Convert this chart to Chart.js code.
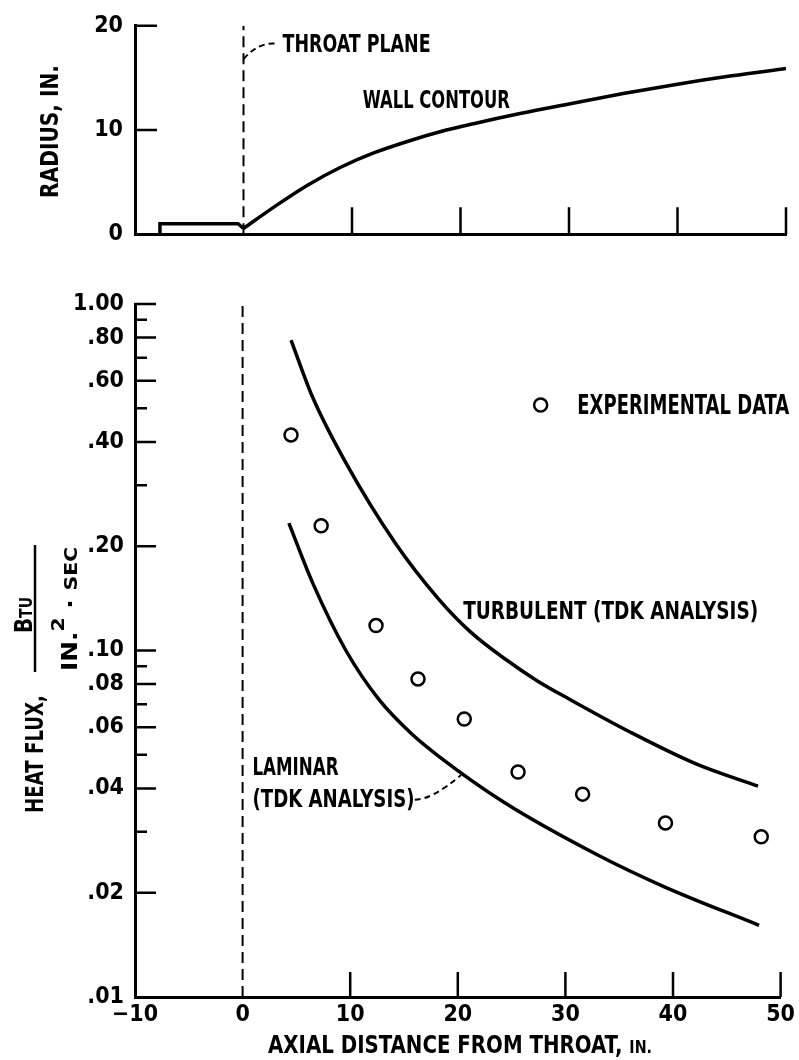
<!DOCTYPE html>
<html>
<head>
<meta charset="utf-8">
<title>Heat flux vs axial distance</title>
<script src="https://cdn.jsdelivr.net/npm/chart.js@4.4.1/dist/chart.umd.min.js"></script>
<style>
  body { margin: 0; background: #fff; }
  canvas { position: absolute; left: 0; }
  #radiusChart { top: 0; }
  #fluxChart { top: 260px; }
</style>
</head>
<body>
<canvas id="radiusChart" width="799" height="260"></canvas>
<canvas id="fluxChart" width="799" height="800"></canvas>
<script>
// axial distance from throat, in.
const distTicks = [-10, 0, 10, 20, 30, 40, 50];
const radiusTicks = [0, 10, 20];

// wall contour, radius in.
const chamberX = [-7.7, -7.7, -0.5, 0];
const chamberR = [0, 1.0, 1.0, 0.55];
const wallX = [0, 2.8, 5.9, 9.0, 12.0, 15.1, 18.2, 21.2, 25.6, 30, 35, 40, 45, 50];
const wallR = [0.55, 2.6, 4.7, 6.45, 7.8, 8.9, 9.85, 10.6, 11.6, 12.5, 13.5, 14.4, 15.2, 15.9];

// heat flux, Btu / in.^2 sec
const fluxTicks = [0.01, 0.02, 0.04, 0.06, 0.08, 0.1, 0.2, 0.4, 0.6, 0.8, 1];
const fluxLabels = ['.01', '.02', '.04', '.06', '.08', '.10', '.20', '.40', '.60', '.80', '1.00'];
const fluxMinor = [0.03, 0.05, 0.07, 0.09, 0.3, 0.5, 0.7, 0.9];

const expX = [4.5, 7.3, 12.4, 16.3, 20.6, 25.6, 31.6, 39.3, 48.2];
const expQ = [0.419, 0.229, 0.118, 0.0828, 0.0634, 0.0446, 0.0385, 0.0318, 0.0290];

const turbX = [4.5, 6.5, 9.6, 14.2, 18.2, 21.2, 24.4, 27.4, 30.5, 36.0, 42.2, 47.9];
const turbQ = [0.787, 0.539, 0.348, 0.204, 0.141, 0.113, 0.0945, 0.0817, 0.0720, 0.0582, 0.0470, 0.0406];

const lamX = [4.3, 6.5, 9.6, 12.7, 15.7, 18.2, 24.4, 33.0, 39.2, 48.0];
const lamQ = [0.233, 0.157, 0.100, 0.0720, 0.0575, 0.0496, 0.0363, 0.0257, 0.0208, 0.0161];

const FAMILY = '"Liberation Sans Narrow", "DejaVu Sans Condensed", "Arial Narrow", sans-serif';
const font = size => 'bold ' + size + 'px ' + FAMILY;
const pts = (xs, ys) => xs.map((x, i) => ({x: x, y: ys[i]}));
const minus = v => v < 0 ? '\u2212' + (-v) : String(v);

// text pieces of different sizes, squeezed to a given width
function fitRun(ctx, x, y, width, parts) {
  let w = 0;
  parts.forEach(p => { ctx.font = font(p[1]); w += ctx.measureText(p[0]).width; });
  ctx.save();
  ctx.translate(x, y);
  ctx.scale(width / w, 1);
  let cx = 0;
  parts.forEach(p => {
    ctx.font = font(p[1]);
    ctx.fillText(p[0], cx, p[2] || 0);
    cx += ctx.measureText(p[0]).width;
  });
  ctx.restore();
}

function fitText(ctx, text, x, y, width, size) {
  fitRun(ctx, x, y, width, [[text, size || 25]]);
}

// same thing, reading upwards from (x, y); x is the baseline
function fitUp(ctx, x, y, width, parts) {
  ctx.save();
  ctx.translate(x, y);
  ctx.rotate(-Math.PI / 2);
  fitRun(ctx, 0, 0, width, parts);
  ctx.restore();
}

function curve(data) {
  return {
    data: data,
    showLine: true,
    borderColor: '#000',
    borderWidth: 3.5,
    pointRadius: 0,
    cubicInterpolationMode: 'monotone'
  };
}

function throatLine(lo, hi) {
  return {
    data: [{x: 0, y: lo}, {x: 0, y: hi}],
    showLine: true,
    borderColor: '#000',
    borderWidth: 2,
    borderDash: [11, 6],
    pointRadius: 0
  };
}

const tickFont = {family: FAMILY, size: 23, weight: 'bold'};

// ---------- upper panel: radius ----------
const radiusMarks = {
  id: 'radiusMarks',
  afterDraw(chart) {
    const {ctx, chartArea: a, scales: {x, y}} = chart;
    ctx.save();
    ctx.strokeStyle = '#000';
    ctx.fillStyle = '#000';
    ctx.lineWidth = 2.5;
    ctx.beginPath();
    distTicks.filter(v => v > 0).forEach(v => {
      const px = x.getPixelForValue(v);
      ctx.moveTo(px, a.bottom);
      ctx.lineTo(px, a.bottom - 27);
    });
    radiusTicks.filter(v => v > 0).forEach(v => {
      const py = y.getPixelForValue(v);
      ctx.moveTo(a.left, py);
      ctx.lineTo(a.left + 22, py);
    });
    ctx.stroke();

    // throat plane leader
    ctx.lineWidth = 2;
    ctx.setLineDash([6, 4]);
    ctx.beginPath();
    ctx.moveTo(x.getPixelForValue(0), y.getPixelForValue(16.8));
    ctx.quadraticCurveTo(x.getPixelForValue(1.3), y.getPixelForValue(18.4),
                         x.getPixelForValue(2.95), y.getPixelForValue(18.3));
    ctx.stroke();
    ctx.setLineDash([]);

    fitText(ctx, 'THROAT PLANE', x.getPixelForValue(3.6), y.getPixelForValue(17.5), 148);
    fitText(ctx, 'WALL CONTOUR', x.getPixelForValue(11.0), y.getPixelForValue(12.07), 147);

    fitUp(ctx, 58, 198, 133, [['RADIUS, IN.', 24]]);
    ctx.restore();
  }
};

new Chart(document.getElementById('radiusChart'), {
  type: 'scatter',
  data: {
    datasets: [
      throatLine(0, 20),
      Object.assign(curve(pts(chamberX, chamberR)), {cubicInterpolationMode: 'default', tension: 0}),
      curve(pts(wallX, wallR))
    ]
  },
  options: {
    responsive: false,
    animation: false,
    layout: {padding: {top: 20, right: 13, left: 0, bottom: 0}},
    plugins: {legend: {display: false}, tooltip: {enabled: false}},
    scales: {
      x: {
        type: 'linear', min: -10, max: 50,
        afterBuildTicks: s => { s.ticks = distTicks.map(v => ({value: v})); },
        afterFit: s => { s.height = 23; },
        grid: {display: false, drawTicks: false},
        border: {display: true, color: '#000', width: 3},
        ticks: {display: false}
      },
      y: {
        type: 'linear', min: 0, max: 20,
        afterBuildTicks: s => { s.ticks = radiusTicks.map(v => ({value: v})); },
        afterFit: s => { s.width = 135; },
        grid: {display: false, drawTicks: false},
        border: {display: true, color: '#000', width: 3},
        ticks: {color: '#000', font: tickFont, padding: 12}
      }
    }
  },
  plugins: [radiusMarks]
});

// ---------- lower panel: heat flux ----------
const fluxMarks = {
  id: 'fluxMarks',
  afterDraw(chart) {
    const {ctx, chartArea: a, scales: {x, y}} = chart;
    ctx.save();
    ctx.strokeStyle = '#000';
    ctx.fillStyle = '#000';
    ctx.lineWidth = 2.5;
    ctx.beginPath();
    fluxTicks.filter(v => v > 0.01).forEach(v => {
      const py = y.getPixelForValue(v);
      ctx.moveTo(a.left, py);
      ctx.lineTo(a.left + 21, py);
    });
    fluxMinor.forEach(v => {
      const py = y.getPixelForValue(v);
      ctx.moveTo(a.left, py);
      ctx.lineTo(a.left + 12, py);
    });
    distTicks.filter(v => v > 0).forEach(v => {
      const px = x.getPixelForValue(v);
      ctx.moveTo(px, a.bottom);
      ctx.lineTo(px, a.bottom - 25);
    });
    ctx.stroke();

    // legend
    ctx.beginPath();
    ctx.arc(x.getPixelForValue(27.7), y.getPixelForValue(0.511), 6.5, 0, Math.PI * 2);
    ctx.stroke();
    fitText(ctx, 'EXPERIMENTAL DATA', x.getPixelForValue(31.1), y.getPixelForValue(0.481), 212, 26);

    fitText(ctx, 'TURBULENT (TDK ANALYSIS)', x.getPixelForValue(20.5), y.getPixelForValue(0.123), 295);
    fitText(ctx, 'LAMINAR', x.getPixelForValue(0.92), y.getPixelForValue(0.0437), 86);
    fitText(ctx, '(TDK ANALYSIS)', x.getPixelForValue(0.92), y.getPixelForValue(0.0353), 162);

    // laminar leader
    ctx.lineWidth = 2;
    ctx.setLineDash([6, 4]);
    ctx.beginPath();
    ctx.moveTo(x.getPixelForValue(16.0), y.getPixelForValue(0.0371));
    ctx.quadraticCurveTo(x.getPixelForValue(17.6), y.getPixelForValue(0.0371),
                         x.getPixelForValue(20.3), y.getPixelForValue(0.0437));
    ctx.stroke();
    ctx.setLineDash([]);

    // x axis title
    fitRun(ctx, 268, 793, 384, [['AXIAL DISTANCE FROM THROAT, ', 25], ['IN.', 18]]);

    // y axis title: HEAT FLUX, Btu / in.^2 sec
    fitUp(ctx, 43, 553, 118, [['HEAT FLUX,', 24]]);
    ctx.lineWidth = 2.5;
    ctx.beginPath();
    ctx.moveTo(35, 285);
    ctx.lineTo(35, 412);
    ctx.stroke();
    fitUp(ctx, 32, 373, 36, [['B', 24], ['TU', 17]]);
    fitUp(ctx, 77, 411, 124, [['IN.', 22], ['2', 18, -13], [' \u00b7 ', 22], ['SEC', 18]]);

    ctx.restore();
  }
};

new Chart(document.getElementById('fluxChart'), {
  type: 'scatter',
  data: {
    datasets: [
      throatLine(0.01, 1),
      curve(pts(turbX, turbQ)),
      curve(pts(lamX, lamQ)),
      {
        data: pts(expX, expQ),
        pointStyle: 'circle',
        pointRadius: 6.5,
        pointBorderWidth: 2.5,
        pointBorderColor: '#000',
        pointBackgroundColor: '#fff'
      }
    ]
  },
  options: {
    responsive: false,
    animation: false,
    layout: {padding: {top: 44, right: 13, left: 0, bottom: 0}},
    plugins: {legend: {display: false}, tooltip: {enabled: false}},
    scales: {
      x: {
        type: 'linear', min: -10, max: 50,
        afterBuildTicks: s => { s.ticks = distTicks.map(v => ({value: v})); },
        afterFit: s => { s.height = 63; },
        grid: {display: false, drawTicks: false},
        border: {display: true, color: '#000', width: 3},
        ticks: {color: '#000', font: tickFont, padding: 4,
                autoSkip: false, maxRotation: 0, callback: v => minus(v)}
      },
      y: {
        type: 'logarithmic', min: 0.01, max: 1,
        afterBuildTicks: s => { s.ticks = fluxTicks.map(v => ({value: v})); },
        afterFit: s => { s.width = 135; },
        grid: {display: false, drawTicks: false},
        border: {display: true, color: '#000', width: 3},
        ticks: {color: '#000', font: tickFont, padding: 11,
                autoSkip: false, callback: (v, i) => fluxLabels[i]}
      }
    }
  },
  plugins: [fluxMarks]
});
</script>
</body>
</html>
